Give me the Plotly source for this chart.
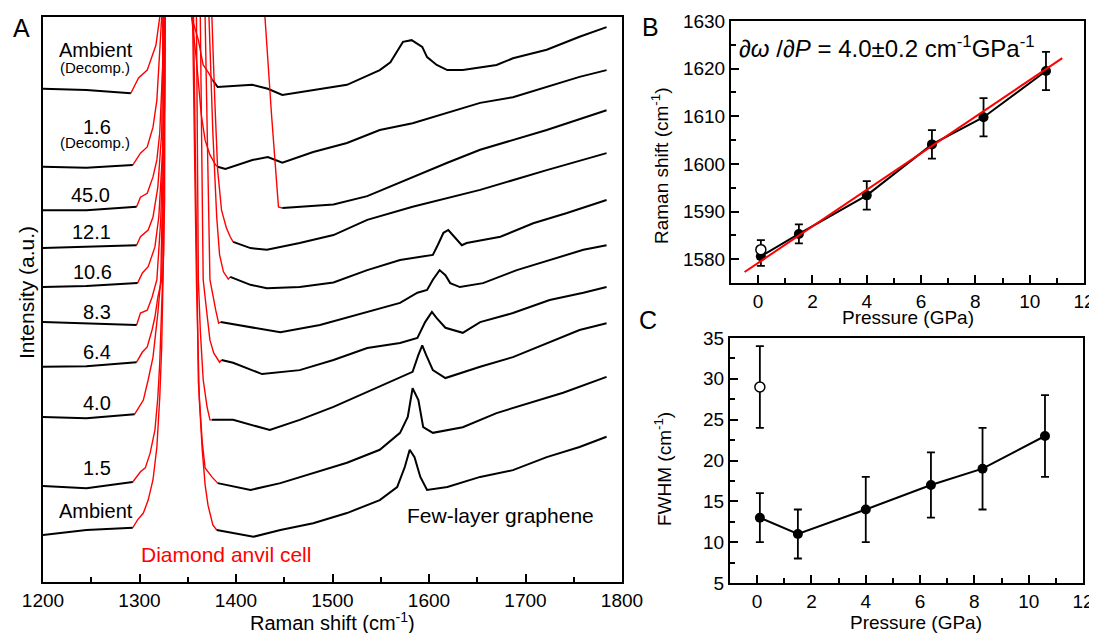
import plotly.graph_objects as go

# ---------------- Panel A: Raman spectra (wavenumber, intensity a.u.) ----------------
# Each spectrum: black part left of the diamond peak, red diamond-anvil part, black part right
AMB_DEC_BL = ([1200, 1245, 1291], [87.3, 87.1, 86.5])
AMB_DEC_RED = ([1291, 1299, 1308, 1314, 1317, 1321, 1323, 1352, 1354, 1361, 1366, 1371, 1376],
               [86.5, 89.2, 90.6, 93.3, 95, 100, 130, 130, 100, 95.9, 91.5, 90.3, 88.8])
AMB_DEC_BR = ([1376, 1381, 1417, 1433, 1448, 1480, 1515, 1549, 1560, 1568, 1573, 1582, 1593, 1598,
               1608, 1619, 1635, 1670, 1687, 1722, 1756, 1784],
              [88.8, 87.6, 88, 87.3, 86.2, 87.1, 88, 90.6, 92, 94.2, 95.6, 95.9, 94.7, 92.9,
               91.5, 90.6, 90.6, 91.5, 92.7, 94.2, 96.5, 98.2])

P16_DEC_BL = ([1200, 1245, 1293], [73.5, 73.3, 73.8])
P16_DEC_RED = ([1293, 1301, 1308, 1314, 1318, 1321, 1323, 1324, 1352, 1354, 1359, 1364, 1368, 1373, 1379, 1381],
               [73.8, 75.9, 77, 80.5, 85.3, 94.2, 100, 130, 130, 100, 92.4, 82.7, 78.2, 75.6, 73.8, 73.5])
P16_DEC_BR = ([1381, 1389, 1417, 1433, 1448, 1480, 1515, 1549, 1583, 1619, 1653, 1687, 1722, 1756, 1784],
              [73.5, 73.1, 74.7, 75.2, 74.2, 76.1, 77.7, 80, 81.2, 83, 84.8, 85.8, 87.6, 89.4, 90.6])

P450_BL = ([1200, 1245, 1297], [65.8, 65.8, 66.4])
P450_RED = ([1297, 1301, 1308, 1314, 1318, 1321, 1324, 1325, 1326, 1428, 1430, 1437, 1442, 1444, 1448],
            [66.4, 68.1, 68.8, 71.7, 74.7, 79.5, 91.2, 100, 130, 130, 100, 82.3, 70.4, 66.4, 66.2])
P450_BR = ([1448, 1466, 1501, 1536, 1583, 1619, 1653, 1722, 1784],
           [66.2, 66.4, 66.8, 68.3, 71.7, 74.2, 76.5, 80, 83.5])

P121_BL = ([1200, 1245, 1297], [59.1, 59.3, 59.6])
P121_RED = ([1297, 1301, 1309, 1314, 1319, 1323, 1324, 1325, 1373, 1375, 1378, 1381, 1385, 1390, 1394, 1397],
            [59.6, 61.1, 62.3, 64.6, 69.9, 79.5, 91.2, 130, 130, 100, 85.3, 72.9, 65.8, 62.7, 61.1, 60.2])
P121_BR = ([1397, 1415, 1432, 1466, 1501, 1536, 1583, 1653, 1722, 1784],
           [60.2, 59.1, 58.8, 60, 61.4, 64.1, 66.4, 69.4, 72.9, 75.9])

P106_BL = ([1200, 1245, 1298], [52.2, 52.4, 52.9])
P106_RED = ([1298, 1303, 1309, 1316, 1320, 1324, 1325, 1326, 1370, 1372, 1376, 1380, 1383, 1387, 1392, 1394],
            [52.9, 54.7, 55.8, 59.3, 64.6, 76.5, 88.3, 130, 130, 100, 79.6, 64.6, 57.9, 54.9, 53.6, 54])
P106_BR = ([1394, 1415, 1432, 1466, 1501, 1536, 1570, 1591, 1604, 1609, 1615, 1620, 1625, 1634, 1639,
            1674, 1708, 1743, 1784],
           [54, 52.6, 52, 52.2, 53, 55.2, 57, 57.5, 57.9, 59.6, 61.8, 62.3, 61.4, 59.6, 60,
            61.1, 63.5, 65.3, 67.6])

P83_BL = ([1200, 1245, 1297], [46, 45.8, 45.5])
P83_RED = ([1297, 1301, 1308, 1313, 1318, 1322, 1325, 1326, 1366, 1368, 1373, 1376, 1379, 1382, 1384],
           [45.5, 47.6, 48.1, 50.4, 53.5, 64.1, 81.8, 130, 130, 100, 53.5, 50.4, 48.1, 45.8, 46])
P83_BR = ([1384, 1415, 1446, 1487, 1536, 1570, 1588, 1598, 1604, 1611, 1617, 1622, 1632, 1656, 1691,
           1725, 1760, 1784],
          [46, 45.1, 44.2, 45.5, 47.8, 49.4, 51.2, 51.7, 53.5, 55.2, 54.3, 52.9, 52.2, 52.9, 55.2,
           57, 58.8, 59.6])

P64_BL = ([1200, 1245, 1297], [38.1, 38.2, 38.9])
P64_RED = ([1297, 1303, 1308, 1313, 1316, 1319, 1323, 1326, 1327, 1361, 1363, 1366, 1370, 1373, 1377, 1383, 1385],
           [38.9, 40.7, 41.6, 44.6, 46.9, 50.4, 53.5, 85.3, 130, 130, 100, 53.5, 47.3, 42.8, 40.5, 38.9, 39.3])
P64_BR = ([1385, 1397, 1427, 1466, 1501, 1536, 1570, 1588, 1596, 1603, 1608, 1617, 1635, 1653, 1687,
           1725, 1760, 1784],
          [39.3, 38.8, 36.8, 37.5, 39.3, 41.4, 42.3, 43.2, 46, 47.8, 46.7, 45, 44.1, 46, 47.6,
           49.9, 51.2, 52.2])

P40_BL = ([1200, 1245, 1295], [29.2, 29, 29.7])
P40_RED = ([1295, 1301, 1304, 1309, 1314, 1319, 1322, 1326, 1327, 1357, 1359, 1361, 1363, 1366, 1370, 1373, 1375],
           [29.7, 31.5, 32.2, 35.8, 39.8, 47.6, 53.5, 85.3, 130, 130, 100, 53.5, 44.6, 35.8, 31, 28.7, 28.7])
P40_BR = ([1375, 1397, 1435, 1466, 1501, 1536, 1570, 1583, 1589, 1593, 1597, 1604, 1617, 1653, 1687,
           1722, 1756, 1784],
          [28.7, 28.7, 26.9, 28.7, 31, 33.6, 36.1, 37.2, 40.2, 41.9, 40.2, 37.5, 36.1, 38.1, 39.8,
           42.3, 44.6, 45.8])

P15_BL = ([1200, 1245, 1293], [17, 16.6, 17.7])
P15_RED = ([1293, 1301, 1306, 1311, 1316, 1319, 1321, 1323, 1325, 1327, 1354, 1356, 1360, 1361, 1365, 1368, 1375, 1381],
           [17.7, 19.5, 20.2, 22.8, 26.9, 32.7, 38.8, 47.6, 58.8, 130, 130, 100, 53.5, 35.4, 24.8, 20.2, 18.6, 17.5])
P15_BR = ([1381, 1415, 1446, 1480, 1515, 1549, 1570, 1578, 1583, 1589, 1594, 1604, 1635, 1670, 1705,
           1739, 1784],
          [17.5, 16.3, 17.5, 19.3, 21.1, 23.4, 26.4, 29.2, 34.3, 32.2, 27.4, 26.4, 27.4, 29.9, 31.7,
           33.5, 36.3])

AMB_BL = ([1200, 1245, 1293], [8.3, 9.2, 9.6])
AMB_RED = ([1293, 1298, 1304, 1309, 1314, 1318, 1321, 1323, 1324, 1326, 1327, 1353, 1355, 1359, 1362,
            1365, 1368, 1371, 1376, 1380],
           [9.6, 11, 12.2, 14.5, 18.1, 23.9, 32.7, 41.6, 50.4, 67.6, 130, 130, 100, 53.5, 32.2,
            23.4, 17.2, 13.6, 10.1, 9.2])
AMB_BR = ([1380, 1418, 1446, 1480, 1515, 1549, 1567, 1575, 1580, 1585, 1591, 1598, 1619, 1653, 1687,
           1722, 1756, 1784],
          [9.2, 8, 9.2, 10.4, 12.2, 14.5, 16.8, 20.4, 23.4, 22.1, 18.6, 16.3, 16.8, 18.6, 19.8,
           22.1, 23.9, 25.7])

SPECTRA = [
    (AMB_DEC_BL, AMB_DEC_RED, AMB_DEC_BR),
    (P16_DEC_BL, P16_DEC_RED, P16_DEC_BR),
    (P450_BL, P450_RED, P450_BR),
    (P121_BL, P121_RED, P121_BR),
    (P106_BL, P106_RED, P106_BR),
    (P83_BL, P83_RED, P83_BR),
    (P64_BL, P64_RED, P64_BR),
    (P40_BL, P40_RED, P40_BR),
    (P15_BL, P15_RED, P15_BR),
    (AMB_BL, AMB_RED, AMB_BR),
]

# Spectrum labels
SPEC_LABELS = ["Ambient", "(Decomp.)", "1.6", "(Decomp.)", "45.0", "12.1", "10.6",
               "8.3", "6.4", "4.0", "1.5", "Ambient"]
SPEC_LABEL_WN = [1255, 1254, 1256, 1254, 1249, 1250, 1251, 1256, 1256, 1256, 1256, 1255]
SPEC_LABEL_I = [94.2, 91.0, 80.5, 77.7, 68.5, 61.9, 54.9, 47.8, 40.7, 31.7, 20.2, 12.6]
SPEC_LABEL_SIZE = [20, 15, 20, 15, 20, 20, 20, 20, 20, 20, 20, 20]

# ---------------- Panel B: G-peak position vs pressure ----------------
pressure = [0.1, 1.5, 4.0, 6.4, 8.3, 10.6]
raman_shift = [1580.6, 1585.3, 1593.4, 1604.1, 1609.8, 1619.5]
raman_err = [2.0, 2.0, 3.0, 3.0, 4.0, 4.0]
decomp_pressure = [0.1]
decomp_shift = [1582.0]
decomp_shift_err = [2.0]
fit_x = [-0.5, 11.2]
fit_y = [1577.3, 1622.2]

# ---------------- Panel C: FWHM vs pressure ----------------
fwhm = [13, 11, 14, 17, 19, 23]
fwhm_err = [3, 3, 4, 4, 5, 5]
decomp_fwhm = [29]
decomp_fwhm_err = [5]

FONT = "Liberation Sans, Arial, sans-serif"
W, H = 1097, 633
OFF = 8  # page body margin offset (window pixels -> figure pixels)

fig = go.Figure()

for bl, red, br in SPECTRA:
    fig.add_trace(go.Scatter(x=red[0], y=red[1], mode="lines", line=dict(color="#ff0000", width=1.4),
                             xaxis="x", yaxis="y", showlegend=False, hoverinfo="skip"))
    for seg in (bl, br):
        fig.add_trace(go.Scatter(x=seg[0], y=seg[1], mode="lines", line=dict(color="black", width=2),
                                 xaxis="x", yaxis="y", showlegend=False, hoverinfo="skip"))

# Panel B
fig.add_trace(go.Scatter(x=pressure, y=raman_shift, mode="lines+markers",
                         line=dict(color="black", width=2),
                         marker=dict(color="black", size=10),
                         error_y=dict(type="data", array=raman_err, color="black", thickness=1.8, width=4),
                         xaxis="x2", yaxis="y2", showlegend=False))
fig.add_trace(go.Scatter(x=decomp_pressure, y=decomp_shift, mode="markers",
                         marker=dict(color="white", size=10, line=dict(color="black", width=1.5)),
                         error_y=dict(type="data", array=decomp_shift_err, color="black", thickness=1.8, width=4),
                         xaxis="x2", yaxis="y2", showlegend=False))
fig.add_trace(go.Scatter(x=fit_x, y=fit_y, mode="lines", line=dict(color="#ff0000", width=2),
                         xaxis="x2", yaxis="y2", showlegend=False))

# Panel C
fig.add_trace(go.Scatter(x=pressure, y=fwhm, mode="lines+markers",
                         line=dict(color="black", width=2),
                         marker=dict(color="black", size=10),
                         error_y=dict(type="data", array=fwhm_err, color="black", thickness=1.8, width=4),
                         xaxis="x3", yaxis="y3", showlegend=False))
fig.add_trace(go.Scatter(x=decomp_pressure, y=decomp_fwhm, mode="markers",
                         marker=dict(color="white", size=10, line=dict(color="black", width=1.5)),
                         error_y=dict(type="data", array=decomp_fwhm_err, color="black", thickness=1.8, width=4),
                         xaxis="x3", yaxis="y3", showlegend=False))


def fx(x):
    return (x - OFF) / W


def fy(y):
    return 1 - (y - OFF) / H


def axis(domain, rng, dtick=None, minor=None, anchor=None, labels=True):
    d = dict(domain=domain, range=rng, showgrid=False, zeroline=False, automargin=False,
             showline=True, linecolor="black", linewidth=2, mirror=True,
             ticks="inside" if labels else "", ticklen=8, tickwidth=1.5, tickcolor="black",
             showticklabels=labels, tickfont=dict(family=FONT, size=19, color="black"))
    if dtick is not None:
        d["dtick"] = dtick
    if minor is not None and labels:
        d["minor"] = dict(dtick=minor, ticks="inside", ticklen=5, tickwidth=1.5, tickcolor="black", showgrid=False)
    if anchor:
        d["anchor"] = anchor
    return d


annotations = []
for t, xw, yi, s in zip(SPEC_LABELS, SPEC_LABEL_WN, SPEC_LABEL_I, SPEC_LABEL_SIZE):
    annotations.append(dict(text=t, x=xw, y=yi, xref="x", yref="y", showarrow=False,
                            font=dict(family=FONT, size=s, color="black"), xanchor="center", yanchor="middle"))
annotations.append(dict(text="Diamond anvil cell", x=1390, y=4.8, xref="x", yref="y", showarrow=False,
                        font=dict(family=FONT, size=21, color="#ff0000"), xanchor="center", yanchor="middle"))
annotations.append(dict(text="Few-layer graphene", x=1674, y=11.7, xref="x", yref="y", showarrow=False,
                        font=dict(family=FONT, size=21, color="black"), xanchor="center", yanchor="middle"))


def paper_text(t, x, y, size, angle=0, xanchor="center", color="black"):
    annotations.append(dict(text=t, x=fx(x), y=fy(y), xref="paper", yref="paper", showarrow=False,
                            textangle=angle, xanchor=xanchor, yanchor="middle",
                            font=dict(family=FONT, size=size, color=color)))


paper_text("A", 21, 28, 25)
paper_text("B", 650, 27, 25)
paper_text("C", 648, 320, 25)
paper_text("Raman shift (cm<sup>-1</sup>)", 332, 621, 20)
paper_text("Intensity (a.u.)", 26, 293, 21, angle=-90)
paper_text("Pressure (GPa)", 908, 317, 19)
paper_text("Raman shift (cm<sup>-1</sup>)", 660, 166, 19, angle=-90)
paper_text("Pressure (GPa)", 916, 622, 19)
paper_text("FWHM (cm<sup>-1</sup>)", 663, 469, 19, angle=-90)
paper_text("\u2202<i>\u03c9</i> /\u2202<i>P</i> = 4.0\u00b10.2 cm<sup>-1</sup>GPa<sup>-1</sup>", 737, 47, 24,
           xanchor="left")

fig.update_layout(
    width=W, height=H, autosize=False,
    margin=dict(l=0, r=0, t=0, b=0, pad=0, autoexpand=False),
    paper_bgcolor="white", plot_bgcolor="white", showlegend=False,
    xaxis=axis([fx(43), fx(622)], [1200, 1800], dtick=100, minor=50, anchor="y"),
    yaxis=axis([fy(582), fy(17)], [0, 100], anchor="x", labels=False),
    xaxis2=axis([fx(731), fx(1084)], [-1, 12], dtick=2, minor=1, anchor="y2"),
    yaxis2=axis([fy(283), fy(21)], [1575, 1630], dtick=10, minor=5, anchor="x2"),
    xaxis3=axis([fx(730), fx(1083)], [-1, 12], dtick=2, minor=1, anchor="y3"),
    yaxis3=axis([fy(583), fy(338)], [5, 35], dtick=5, minor=2.5, anchor="x3"),
    annotations=annotations,
)

fig.write_html("out.html")
